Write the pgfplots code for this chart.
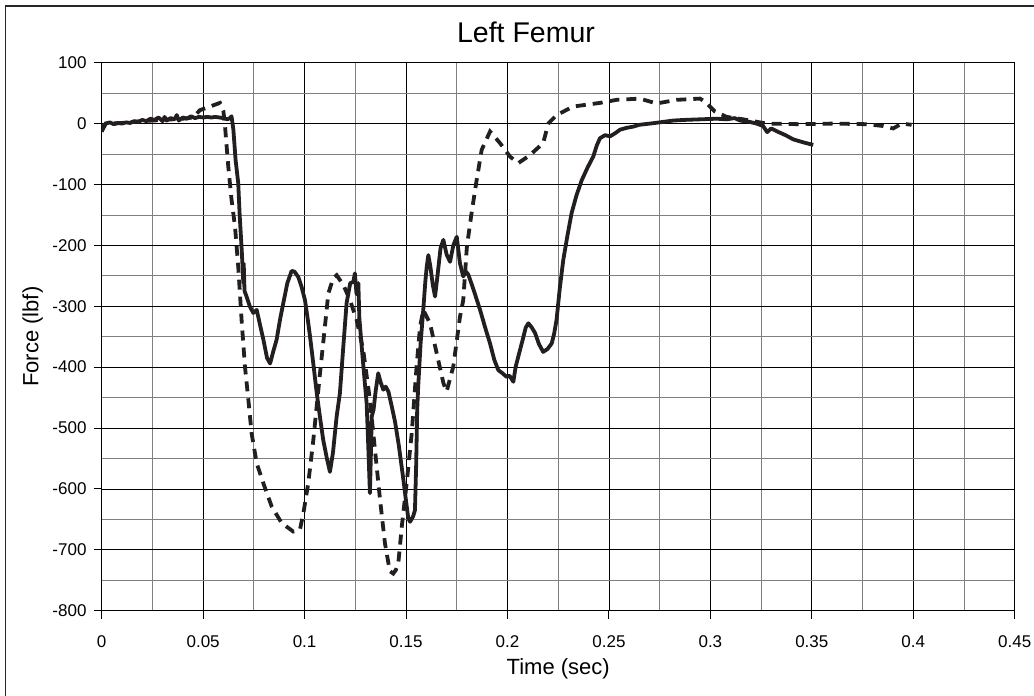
\documentclass[border=0pt]{standalone}
\usepackage{fontspec}
\setmainfont{Liberation Sans}
\usepackage{pgfplots}
\pgfplotsset{compat=1.18}
\definecolor{ink}{HTML}{231F20}

\begin{document}
\begin{tikzpicture}
% page = 1034 x 696, axis box bottom-left at (0,0)
\path[use as bounding box] (-101.7pt,-85.3pt) rectangle (932.3pt,610.7pt);
\begin{axis}[
    at={(0,0)}, anchor=south west,
    scale only axis, width=913pt, height=548pt,
    xmin=0, xmax=0.45, ymin=-800, ymax=100,
    xtick={0,0.05,0.1,0.15,0.2,0.25,0.3,0.35,0.4,0.45},
    xticklabels={0,0.05,0.1,0.15,0.2,0.25,0.3,0.35,0.4,0.45},
    minor xtick={0.025,0.075,0.125,0.175,0.225,0.275,0.325,0.375,0.425},
    ytick={-800,-700,-600,-500,-400,-300,-200,-100,0,100},
    yticklabels={-800,-700,-600,-500,-400,-300,-200,-100,0,100},
    minor ytick={-750,-650,-550,-450,-350,-250,-150,-50,50},
    xtick pos=bottom, ytick pos=left,
    tick align=outside, major tick length=8pt, minor tick length=0pt,
    tick style={black, line width=1pt},
    grid=both,
    major grid style={black, line width=0.8pt},
    minor grid style={black!50, line width=0.8pt},
    axis line style={black, line width=1.3pt},
    ticklabel style={font=\fontsize{17}{17}\selectfont, inner sep=0pt},
    xticklabel shift=17pt,
    yticklabel shift=7pt,
]
% solid trace
\addplot[color=ink, line width=3.8pt, line join=round] coordinates {
(0.0000,-13) (0.0010,-3) (0.0020,0) (0.0040,2) (0.0060,-1) (0.0080,1)
(0.0100,0) (0.0120,2) (0.0140,1) (0.0160,4) (0.0180,3) (0.0200,6)
(0.0220,4) (0.0240,8) (0.0260,6) (0.0280,10) (0.0300,4) (0.0310,11)
(0.0320,5) (0.0340,9) (0.0360,7) (0.0370,14) (0.0380,5) (0.0400,10)
(0.0420,8) (0.0440,12) (0.0460,9) (0.0480,11) (0.0500,10) (0.0520,11)
(0.0540,10) (0.0560,11) (0.0580,10) (0.0600,9) (0.0620,7) (0.0632,9)
(0.0640,12) (0.0649,-10) (0.0660,-60) (0.0673,-98) (0.0680,-150)
(0.0690,-207) (0.0695,-240) (0.0698,-262) (0.0700,-230) (0.0704,-275)
(0.0714,-284) (0.0730,-300) (0.0747,-311) (0.0764,-306) (0.0780,-330)
(0.0797,-355) (0.0815,-385) (0.0830,-394) (0.0845,-375) (0.0862,-355)
(0.0880,-320) (0.0895,-295) (0.0915,-262) (0.0936,-242) (0.0950,-243)
(0.0969,-252) (0.0985,-268) (0.1002,-290) (0.1015,-320) (0.1027,-350)
(0.1045,-400) (0.1060,-443) (0.1075,-480) (0.1092,-520) (0.1110,-550)
(0.1125,-572) (0.1140,-540) (0.1158,-481) (0.1174,-443) (0.1190,-370)
(0.1207,-295) (0.1225,-262) (0.1240,-260) (0.1248,-246) (0.1256,-280)
(0.1265,-262) (0.1270,-320) (0.1285,-380) (0.1298,-430) (0.1306,-460)
(0.1315,-540) (0.1322,-607) (0.1327,-540) (0.1331,-481) (0.1340,-470)
(0.1350,-440) (0.1363,-410) (0.1375,-425) (0.1388,-437) (0.1400,-432)
(0.1413,-440) (0.1430,-465) (0.1446,-490) (0.1465,-530) (0.1487,-585)
(0.1500,-620) (0.1511,-648) (0.1520,-654) (0.1535,-645) (0.1544,-635)
(0.1550,-560) (0.1555,-470) (0.1560,-432) (0.1572,-360) (0.1585,-306)
(0.1595,-260) (0.1602,-235) (0.1610,-216) (0.1620,-235) (0.1632,-265)
(0.1643,-284) (0.1655,-250) (0.1670,-205) (0.1684,-191) (0.1700,-215)
(0.1717,-227) (0.1733,-200) (0.1750,-186) (0.1766,-230) (0.1782,-251)
(0.1795,-243) (0.1807,-248) (0.1830,-270) (0.1865,-306) (0.1890,-335)
(0.1914,-361) (0.1935,-388) (0.1955,-405) (0.1975,-410) (0.1996,-416)
(0.2010,-414) (0.2029,-424) (0.2040,-400) (0.2053,-383) (0.2075,-355)
(0.2090,-335) (0.2103,-328) (0.2120,-335) (0.2136,-344) (0.2155,-362)
(0.2176,-375) (0.2198,-370) (0.2218,-361) (0.2230,-345) (0.2242,-322)
(0.2258,-270) (0.2275,-224) (0.2295,-185) (0.2316,-147) (0.2340,-118)
(0.2366,-93) (0.2395,-72) (0.2423,-54) (0.2440,-36) (0.2456,-24)
(0.2481,-19) (0.2505,-21) (0.2530,-16) (0.2555,-10) (0.2587,-7)
(0.2620,-5) (0.2650,-2) (0.2702,0) (0.2750,2) (0.2817,5) (0.2870,6)
(0.2950,7) (0.3031,8) (0.3080,7) (0.3120,9) (0.3146,5) (0.3190,3)
(0.3228,0) (0.3260,-4) (0.3280,-14) (0.3300,-8) (0.3330,-13)
(0.3370,-19) (0.3409,-26) (0.3460,-31) (0.3507,-35)
};
% dashed trace
\addplot[color=ink, line width=3.8pt, dash pattern=on 10pt off 7pt] coordinates {
(0.0000,-13) (0.0020,0) (0.0100,1) (0.0200,4) (0.0300,6) (0.0400,8)
(0.0450,10) (0.0484,22) (0.0583,34) (0.0600,20) (0.0608,-5)
(0.0624,-71) (0.0640,-125) (0.0657,-169) (0.0673,-235) (0.0690,-325)
(0.0706,-399) (0.0723,-454) (0.0739,-509) (0.0764,-558) (0.0797,-591)
(0.0838,-629) (0.0887,-656) (0.0944,-670) (0.0977,-667) (0.0994,-640)
(0.1018,-591) (0.1043,-520) (0.1076,-410) (0.1100,-334) (0.1117,-279)
(0.1141,-254) (0.1158,-249) (0.1191,-265) (0.1224,-290) (0.1257,-323)
(0.1289,-372) (0.1322,-454) (0.1347,-536) (0.1372,-618) (0.1396,-689)
(0.1420,-735) (0.1437,-739) (0.1450,-733) (0.1462,-722) (0.1479,-662)
(0.1503,-591) (0.1528,-509) (0.1552,-399) (0.1569,-334) (0.1585,-306)
(0.1618,-328) (0.1651,-377) (0.1684,-426) (0.1700,-440) (0.1733,-399)
(0.1766,-317) (0.1782,-290) (0.1800,-202) (0.1823,-147) (0.1848,-93)
(0.1873,-43) (0.1914,-13) (0.1963,-32) (0.2012,-54) (0.2053,-65)
(0.2110,-52) (0.2176,-32) (0.2201,0) (0.2242,14) (0.2324,28)
(0.2456,34) (0.2538,39) (0.2653,41) (0.2735,33) (0.2834,39)
(0.2949,41) (0.2973,36) (0.3022,20) (0.3080,11) (0.3162,7)
(0.3277,0) (0.3441,-1) (0.3606,0) (0.3770,-1) (0.3852,-4)
(0.3901,-8) (0.3943,0) (0.3992,-2)
};
\end{axis}
% outer frame (only left and top edges fall inside the picture)
\draw[black!85, line width=1.6pt] (-96.2pt,-86pt) -- (-96.2pt,604.7pt) -- (933pt,604.7pt);
\node[font=\fontsize{28.5}{30}\selectfont, anchor=base, inner sep=0pt] at (424.3pt,568.4pt) {Left Femur};
\node[font=\fontsize{22}{24}\selectfont, anchor=base, inner sep=0pt] at (456.5pt,-64pt) {Time (sec)};
\node[font=\fontsize{22}{24}\selectfont, anchor=base, rotate=90, inner sep=0pt] at (-63.4pt,274pt) {Force (lbf)};
\end{tikzpicture}
\end{document}
